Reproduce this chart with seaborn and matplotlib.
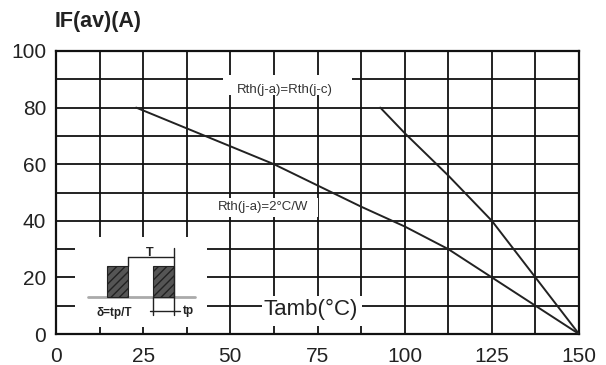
import matplotlib
matplotlib.use("Agg")
import matplotlib.pyplot as plt
import seaborn as sns
import pandas as pd
from matplotlib.patches import Rectangle
from matplotlib.ticker import MultipleLocator

# ---- data ----
x_rth_2cw = [23, 62.5, 75, 87.5, 100, 112.5, 125, 137.5, 150]
y_rth_2cw = [80, 60, 52.5, 45, 38, 30, 20, 10, 0]
x_rth_jc = [93, 100, 112.5, 125, 137.5, 150]
y_rth_jc = [80, 71, 56, 40, 20, 0]
x_ticks = [0, 25, 50, 75, 100, 125, 150]
y_ticks = [0, 20, 40, 60, 80, 100]
label_2cw = "Rth(j-a)=2°C/W"
label_jc = "Rth(j-a)=Rth(j-c)"
y_title = "IF(av)(A)"
x_title = "Tamb(°C)"

sns.set_theme(style="white")
plt.rcParams["font.family"] = ["Liberation Sans", "DejaVu Sans"]

fig = plt.figure(figsize=(6.06, 3.65), dpi=100)
ax = fig.add_axes([56/606, 1-334/365, 523/606, 283/365])

df1 = pd.DataFrame({"x": x_rth_2cw, "y": y_rth_2cw})
df2 = pd.DataFrame({"x": x_rth_jc, "y": y_rth_jc})
sns.lineplot(data=df1, x="x", y="y", ax=ax, color="#222222", lw=1.4, sort=False, zorder=3)
sns.lineplot(data=df2, x="x", y="y", ax=ax, color="#222222", lw=1.4, sort=False, zorder=3)

ax.set_xlim(0, 150)
ax.set_ylim(0, 100)
ax.set_xticks(x_ticks)
ax.set_yticks(y_ticks)
ax.xaxis.set_minor_locator(MultipleLocator(12.5))
ax.yaxis.set_minor_locator(MultipleLocator(10))
ax.set_axisbelow(True)
ax.grid(True, which="both", color="#111111", lw=1.3)
ax.tick_params(which="both", length=0, labelsize=15, colors="#222222")
ax.tick_params(axis="y", pad=7)
ax.tick_params(axis="x", pad=9)
ax.set_xlabel("")
ax.set_ylabel("")
for s in ax.spines.values():
    s.set_color("#111111")
    s.set_linewidth(1.6)
    s.set_visible(True)

T = ax.transAxes
def white_box(x0, y0, x1, y1):
    ax.add_patch(Rectangle((x0, y0), x1-x0, y1-y0, transform=T, facecolor="white",
                           edgecolor="none", zorder=1.5))

# label boxes
white_box(0.3193, 0.8445, 0.5660, 0.9152)
ax.text(0.4379, 0.8622, label_jc, transform=T, ha="center", va="center",
        fontsize=9.5, color="#333333", zorder=4)
white_box(0.2906, 0.4134, 0.5010, 0.4806)
ax.text(0.3958, 0.4488, label_2cw, transform=T, ha="center", va="center",
        fontsize=9.5, color="#333333", zorder=4)
white_box(0.3939, 0.0283, 0.5851, 0.1343)
ax.text(0.4876, 0.0883, x_title, transform=T, ha="center", va="center",
        fontsize=16, color="#222222", zorder=4)

# inset pulse diagram
white_box(0.0363, 0.0247, 0.2887, 0.3428)
base_y = 0.1307
ax.plot([0.0612, 0.2658], [base_y, base_y], transform=T, color="#aaaaaa", lw=2, zorder=3)
for x0, x1 in [(0.0975, 0.1377), (0.1855, 0.2256)]:
    ax.add_patch(Rectangle((x0, base_y), x1-x0, 0.2403-base_y, transform=T,
                           facecolor="#555555", edgecolor="#222222", hatch="////",
                           lw=0.8, zorder=3))
kw = dict(transform=T, color="#222222", lw=1.0, zorder=4)
ax.plot([0.1377, 0.1377], [0.2403, 0.2721], **kw)
ax.plot([0.2256, 0.2256], [0.0671, 0.3039], **kw)
ax.plot([0.1377, 0.2256], [0.2721, 0.2721], **kw)
ax.plot([0.1855, 0.1855], [0.0671, base_y], **kw)
ax.plot([0.1797, 0.2371], [0.0813, 0.0813], **kw)
ax.text(0.1797, 0.2862, "T", transform=T, ha="center", va="center", fontsize=9,
        fontweight="bold", color="#222222", zorder=5)
ax.text(0.2430, 0.0813, "tp", transform=T, ha="left", va="center", fontsize=8.5,
        fontweight="bold", color="#222222", zorder=5)
ax.text(0.1109, 0.0742, "δ=tp/T", transform=T, ha="center", va="center", fontsize=8.5,
        fontweight="bold", color="#222222", zorder=5)

fig.text(55/606, 1-22/365, y_title, ha="left", va="center", fontsize=15.5,
         fontweight="bold", color="#222222")

fig.savefig("out.png", dpi=100, facecolor="white")
